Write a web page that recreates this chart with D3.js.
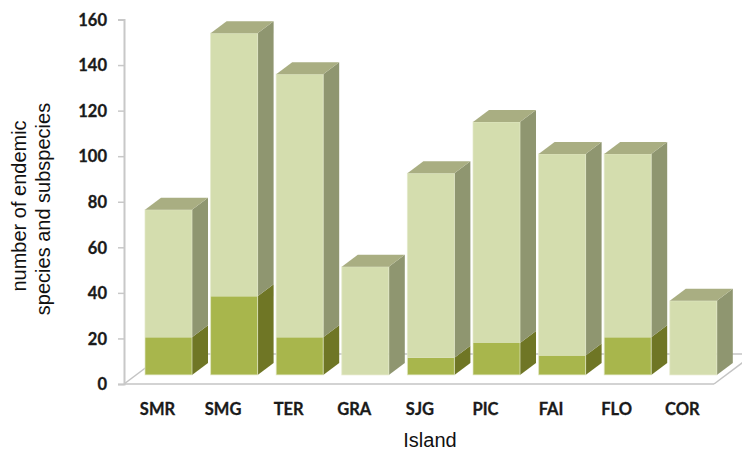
<!DOCTYPE html>
<html>
<head>
<meta charset="utf-8">
<script src="https://cdn.jsdelivr.net/npm/d3@7/dist/d3.min.js"></script>
<style>
  html, body { margin: 0; padding: 0; background: #fff; }
  svg { display: block; }
  .tick-label { font-family: Lato, "Open Sans", sans-serif; font-weight: 700; fill: #1a1a1a; stroke: #1a1a1a; stroke-width: 0.3px; }
  .axis-title { font-family: "Liberation Sans", Arial, sans-serif; fill: #111; }
</style>
</head>
<body>
<svg id="chart" width="742" height="452"></svg>
<script>
const islands = ["SMR", "SMG", "TER", "GRA", "SJG", "PIC", "FAI", "FLO", "COR"];
const lowerValues = [20.5, 38.5, 20.5, 0, 11.5, 18, 12.5, 20.5, 0];
const upperValues = [56, 115.5, 115.5, 51.5, 81, 97, 88.5, 80.5, 36.5];
const yTicks = [0, 20, 40, 60, 80, 100, 120, 140, 160];

const width = 742, height = 452;
const depthX = 16, depthY = 12;      // oblique projection of the bar depth
const floorValue = 4;                // bars stand on the floor, slightly above the axis zero

const faces = {
  lower: { front: "#a8b64c", side: "#6f7625", top: "#8a9438" },
  upper: { front: "#d4ddae", side: "#8f9670", top: "#a9ae82" }
};

const svg = d3.select("#chart");
const y = d3.scaleLinear().domain([0, 160]).range([384, 19.5]);
const x = d3.scaleBand().domain(islands).range([135.7, 726.1])
  .paddingInner(0.2835).paddingOuter(0.1417);

// Floor outline of the 3D plot box
const floorLines = [
  [[124, 384], [714, 384]],
  [[124, 384], [164, 354]],
  [[714, 384], [754, 354]],
  [[164, 354], [754, 354]]
];
svg.append("g").selectAll("line").data(floorLines).join("line")
  .attr("x1", d => d[0][0]).attr("y1", d => d[0][1])
  .attr("x2", d => d[1][0]).attr("y2", d => d[1][1])
  .attr("stroke", "#c4c4c4").attr("stroke-width", 1.5);

// Value axis
const axis = d3.axisLeft(y).tickValues(yTicks).tickSize(6).tickPadding(12);
const axisG = svg.append("g").attr("transform", "translate(124,0)").call(axis);
axisG.select(".domain").attr("stroke", "#c8c8c8").attr("stroke-width", 2);
axisG.selectAll(".tick line").attr("stroke", "#c8c8c8").attr("stroke-width", 1.5);
axisG.selectAll(".tick text").attr("class", "tick-label")
  .style("font-size", "16.5px").attr("x", -17).attr("dy", "0.35em");

const poly = pts => pts.map(p => p.join(",")).join(" ");

// Stacked bars with front, side and top faces
const bars = svg.append("g").selectAll("g").data(islands).join("g");
bars.each(function (name, i) {
  const g = d3.select(this);
  const x0 = x(name), x1 = x0 + x.bandwidth();
  const lower = lowerValues[i], total = lower + upperValues[i];
  const segments = [];
  if (lower > 0) segments.push({ from: floorValue, to: lower, c: faces.lower });
  segments.push({ from: lower > 0 ? lower : floorValue, to: total, c: faces.upper });

  segments.forEach(s => {
    const yb = y(s.from), yt = y(s.to);
    g.append("polygon")
      .attr("points", poly([[x1, yb], [x1 + depthX, yb - depthY], [x1 + depthX, yt - depthY], [x1, yt]]))
      .attr("fill", s.c.side);
    g.append("rect")
      .attr("x", x0).attr("y", yt).attr("width", x1 - x0).attr("height", yb - yt)
      .attr("fill", s.c.front);
  });
  // Pale rim along the front edges
  g.append("rect")
    .attr("x", x0).attr("y", y(total)).attr("width", x1 - x0).attr("height", y(floorValue) - y(total))
    .attr("fill", "none").attr("stroke", "#e2e8c8").attr("stroke-width", 1).attr("stroke-opacity", 0.7);
  const yt = y(total);
  g.append("polygon")
    .attr("points", poly([[x0, yt], [x0 + depthX, yt - depthY], [x1 + depthX, yt - depthY], [x1, yt]]))
    .attr("fill", faces.upper.top);
});

// Category labels sit on the front edge of the floor
svg.append("g").selectAll("text").data(islands).join("text")
  .attr("class", "tick-label")
  .attr("x", d => x(d) + x.bandwidth() / 2 - 11)
  .attr("y", 415)
  .attr("text-anchor", "middle")
  .style("font-size", "16.5px")
  .text(d => d);

// Axis titles
svg.append("text").attr("class", "axis-title")
  .attr("x", 430).attr("y", 447).attr("text-anchor", "middle")
  .style("font-size", "20px").text("Island");

const yTitle = svg.append("g").attr("transform", "translate(0,206) rotate(-90)");
yTitle.append("text").attr("class", "axis-title")
  .attr("x", 0).attr("y", 26).attr("text-anchor", "middle")
  .style("font-size", "20px").text("number of endemic");
yTitle.append("text").attr("class", "axis-title")
  .attr("x", -3).attr("y", 50).attr("text-anchor", "middle")
  .style("font-size", "20px").text("species and subspecies");
</script>
</body>
</html>
